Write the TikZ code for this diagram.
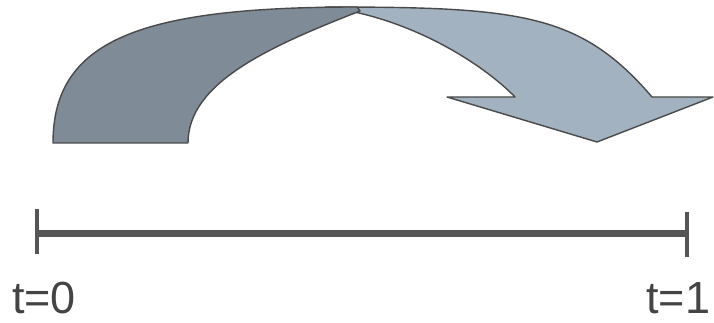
\documentclass[tikz,border=0pt]{standalone}
\usepackage{fontspec}
\setmainfont{Liberation Sans}
\definecolor{darkfill}{HTML}{7F8B97}
\definecolor{lightfill}{HTML}{A3B2C1}
\definecolor{edge}{HTML}{4A4A4A}
\definecolor{barcol}{HTML}{555555}
\definecolor{txtcol}{HTML}{444444}
\tikzset{
  band/.style={draw=edge, line width=1.4pt, line join=round},
  bar/.style={draw=barcol, line width=7pt},
  tick/.style={draw=barcol, line width=4pt},
  lbl/.style={inner sep=0pt, anchor=base west, text=txtcol, font=\fontsize{45}{50}\selectfont}
}
\begin{document}
\begin{tikzpicture}[x=1pt, y=-1pt]
\useasboundingbox (0,0) rectangle (714,323);
% light half of the curved arrow
\path[band, fill=lightfill]
  (325,7) .. controls (520,7) and (580,13) .. (652,97)
  -- (713,97) -- (597,142) -- (447,97) -- (515,97)
  .. controls (483,64) and (410,17) .. (325,7) -- cycle;
% dark half of the curved arrow
\path[band, fill=darkfill]
  (53,143) -- (188,143)
  .. controls (188,83) and (268,47) .. (360,11)
  -- (357,7)
  .. controls (140,7) and (53,40) .. (53,143) -- cycle;
% timeline
\coordinate (t0) at (37,233);
\coordinate (t1) at (687,233);
\coordinate (t0top) at (37,209);
\coordinate (t0bot) at (37,254);
\coordinate (t1top) at (687,212);
\coordinate (t1bot) at (687,257);
\draw[bar] (t0) -- (t1);
\draw[tick] (t0top) -- (t0bot);
\draw[tick] (t1top) -- (t1bot);
\node[lbl] (l0) at (12,313) {t=0};
\node[lbl] (l1) at (646,313) {t=1};
\end{tikzpicture}
\end{document}
